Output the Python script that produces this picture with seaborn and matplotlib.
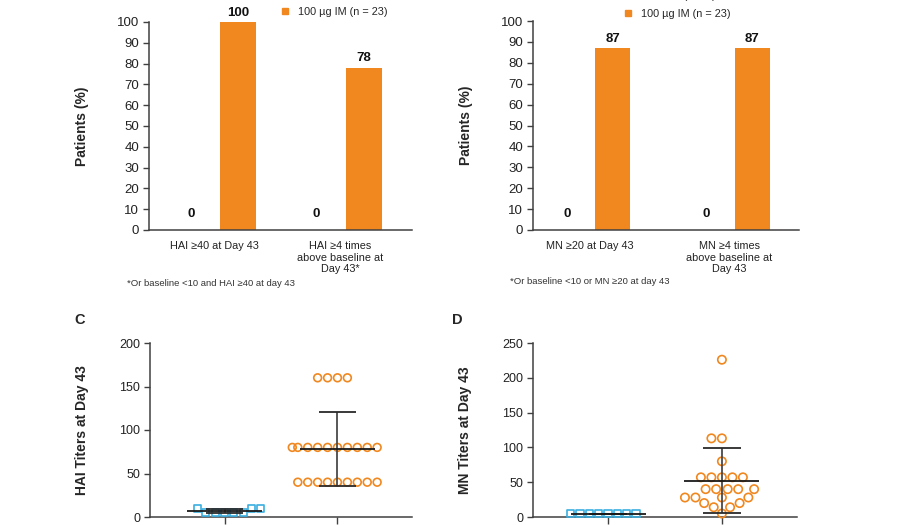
import numpy as np
import pandas as pd
import matplotlib
matplotlib.use("Agg")
import matplotlib.pyplot as plt
from matplotlib.lines import Line2D
import seaborn as sns

# ---- data -------------------------------------------------------------
groups = ["Placebo (n = 8)", "100 µg IM (n = 23)"]

hai_categories = ["HAI ≥40 at Day 43", "HAI ≥4 times\nabove baseline at\nDay 43*"]
hai_placebo_pct = [0, 0]
hai_vaccine_pct = [100, 78]

mn_categories = ["MN ≥20 at Day 43", "MN ≥4 times\nabove baseline at\nDay 43"]
mn_placebo_pct = [0, 0]
mn_vaccine_pct = [87, 87]

hai_placebo_titers = [10, 10, 10, 5, 5, 5, 5, 5]
hai_vaccine_titers = [160, 160, 160, 160,
                      80, 80, 80, 80, 80, 80, 80, 80, 80, 80,
                      40, 40, 40, 40, 40, 40, 40, 40, 40]

mn_placebo_titers = [5, 5, 5, 5, 5, 5, 5, 5]
mn_vaccine_titers = [226, 113, 113, 80, 57, 57, 57, 57, 57,
                     40, 40, 40, 40, 40, 28, 28, 28, 28,
                     20, 20, 14, 14, 5]

hai_footnote = "*Or baseline <10 and HAI ≥40 at day 43"
mn_footnote = "*Or baseline <10 or MN ≥20 at day 43"

ORANGE = "#F0871F"
BLUE = "#3AAEE0"
AXIS = "#404040"

sns.set_style("ticks")
plt.rcParams["font.family"] = ["Liberation Sans", "DejaVu Sans"]
plt.rcParams["axes.edgecolor"] = AXIS
plt.rcParams["axes.linewidth"] = 1.1
plt.rcParams["xtick.color"] = AXIS
plt.rcParams["ytick.color"] = AXIS
plt.rcParams["xtick.labelcolor"] = "#222222"
plt.rcParams["ytick.labelcolor"] = "#222222"

fig = plt.figure(figsize=(9.15, 5.25), dpi=100)
W, H = 915, 525


def px_axes(left, top, right, bottom):
    return fig.add_axes([left / W, 1 - bottom / H, (right - left) / W, (bottom - top) / H])


def bar_panel(ax, cats, placebo, vaccine, xlim, width, gap, footnote, foot_xy):
    df = pd.DataFrame({
        "category": cats * 2,
        "value": placebo + vaccine,
        "group": [groups[0]] * len(cats) + [groups[1]] * len(cats),
    })
    sns.barplot(data=df, x="category", y="value", hue="group", order=cats,
                hue_order=groups, palette=[BLUE, ORANGE], width=width, gap=gap,
                linewidth=0, saturation=1, legend=False, ax=ax)
    pads = [7.5, 2.5]
    for cont, pad in zip(ax.containers, pads):
        ax.bar_label(cont, fmt="%d", padding=pad, fontsize=9.5, fontweight="bold",
                     color="#111111")
    ax.set_ylim(0, 100)
    ax.set_yticks(range(0, 101, 10))
    ax.set_xlim(*xlim)
    ax.set_xlabel("")
    ax.set_ylabel("Patients (%)", fontsize=10, fontweight="bold", labelpad=20)
    ax.tick_params(axis="y", length=4, width=1.0, labelsize=9.5, pad=3)
    ax.tick_params(axis="x", length=0, labelsize=7.8, pad=8)
    sns.despine(ax=ax)
    fig.text(foot_xy[0] / W, 1 - foot_xy[1] / H, footnote, fontsize=6.8,
             color="#333333", va="center", ha="left")


def legend(ax, x, y, entries, spacing):
    colors = [BLUE, ORANGE]
    handles = [Line2D([], [], ls="none", marker="s", ms=5, mfc=colors[i], mec=colors[i])
               for i in entries]
    ax.legend(handles, [groups[i] for i in entries], loc="lower left",
              bbox_to_anchor=(x / W, 1 - y / H), bbox_transform=fig.transFigure,
              frameon=False, fontsize=7.8, handlelength=0.8, handletextpad=0.75,
              borderpad=0, labelspacing=spacing, borderaxespad=0)


def titer_panel(ax, placebo, vaccine, ylim, yticks, ylabel, letter, letter_xy,
                sizes):
    df = pd.DataFrame({
        "group": [groups[0]] * len(placebo) + [groups[1]] * len(vaccine),
        "titer": placebo + vaccine,
    })
    sns.swarmplot(data=df[df.group == groups[0]], x="group", y="titer", order=groups,
                  marker="s", size=sizes[0], facecolor="none", edgecolor=BLUE,
                  linewidth=1.2, ax=ax)
    sns.swarmplot(data=df[df.group == groups[1]], x="group", y="titer", order=groups,
                  marker="o", size=sizes[1], facecolor="none", edgecolor=ORANGE,
                  linewidth=1.2, ax=ax)
    for coll in ax.collections:
        coll.set_facecolor("none")
        if len(coll.get_offsets()) > 0:
            coll.set_clip_on(False)

    # mean +/- SD
    for i, vals in enumerate([placebo, vaccine]):
        m = np.mean(vals)
        sd = np.std(vals, ddof=1)
        ax.vlines(i, m - sd, m + sd, color="#4a4a4a", lw=1.3, zorder=3, clip_on=False)
        ax.hlines([m - sd, m + sd], i - 0.165, i + 0.165, color="#2a2a2a", lw=1.3,
                  zorder=3, clip_on=False)
        ax.hlines(m, i - 0.33, i + 0.33, color="#1a1a1a", lw=1.3, zorder=3,
                  clip_on=False)

    ax.set_xlim(-0.66, 1.66)
    ax.set_ylim(*ylim)
    ax.set_yticks(yticks)
    ax.set_xticks([0, 1])
    ax.set_xticklabels([])
    ax.set_xlabel("")
    ax.set_ylabel(ylabel, fontsize=10, fontweight="bold", labelpad=22)
    ax.tick_params(axis="y", length=4, width=1.0, labelsize=9, pad=3)
    ax.tick_params(axis="x", length=5, width=1.0, direction="out")
    sns.despine(ax=ax)
    fig.text(letter_xy[0] / W, 1 - letter_xy[1] / H, letter, fontsize=10.5,
             fontweight="bold", ha="center", va="center")


# ---- A: HAI responders ---------------------------------------------------
ax_a = px_axes(149, 22, 412, 230)
bar_panel(ax_a, hai_categories, hai_placebo_pct, hai_vaccine_pct,
          (-0.52, 1.57), 0.75, 0.24, hai_footnote, (127, 283))
legend(ax_a, 281, 17, [1], 0.4)

# ---- B: MN responders ----------------------------------------------------
ax_b = px_axes(533, 21, 799, 230)
bar_panel(ax_b, mn_categories, mn_placebo_pct, mn_vaccine_pct,
          (-0.41, 1.5), 0.652, 0.23, mn_footnote, (510, 281))
legend(ax_b, 624, 19, [0, 1], 0.75)

# ---- C: HAI titers -------------------------------------------------------
ax_c = px_axes(150, 343, 412, 517)
titer_panel(ax_c, hai_placebo_titers, hai_vaccine_titers, (0, 200),
            range(0, 201, 50), "HAI Titers at Day 43", "C", (80, 320), (5.2, 5.6))

# ---- D: MN titers --------------------------------------------------------
ax_d = px_axes(533, 343, 797, 517)
titer_panel(ax_d, mn_placebo_titers, mn_vaccine_titers, (0, 250),
            range(0, 251, 50), "MN Titers at Day 43", "D", (457, 320), (5.2, 6.0))

fig.savefig("out.png", dpi=100)
